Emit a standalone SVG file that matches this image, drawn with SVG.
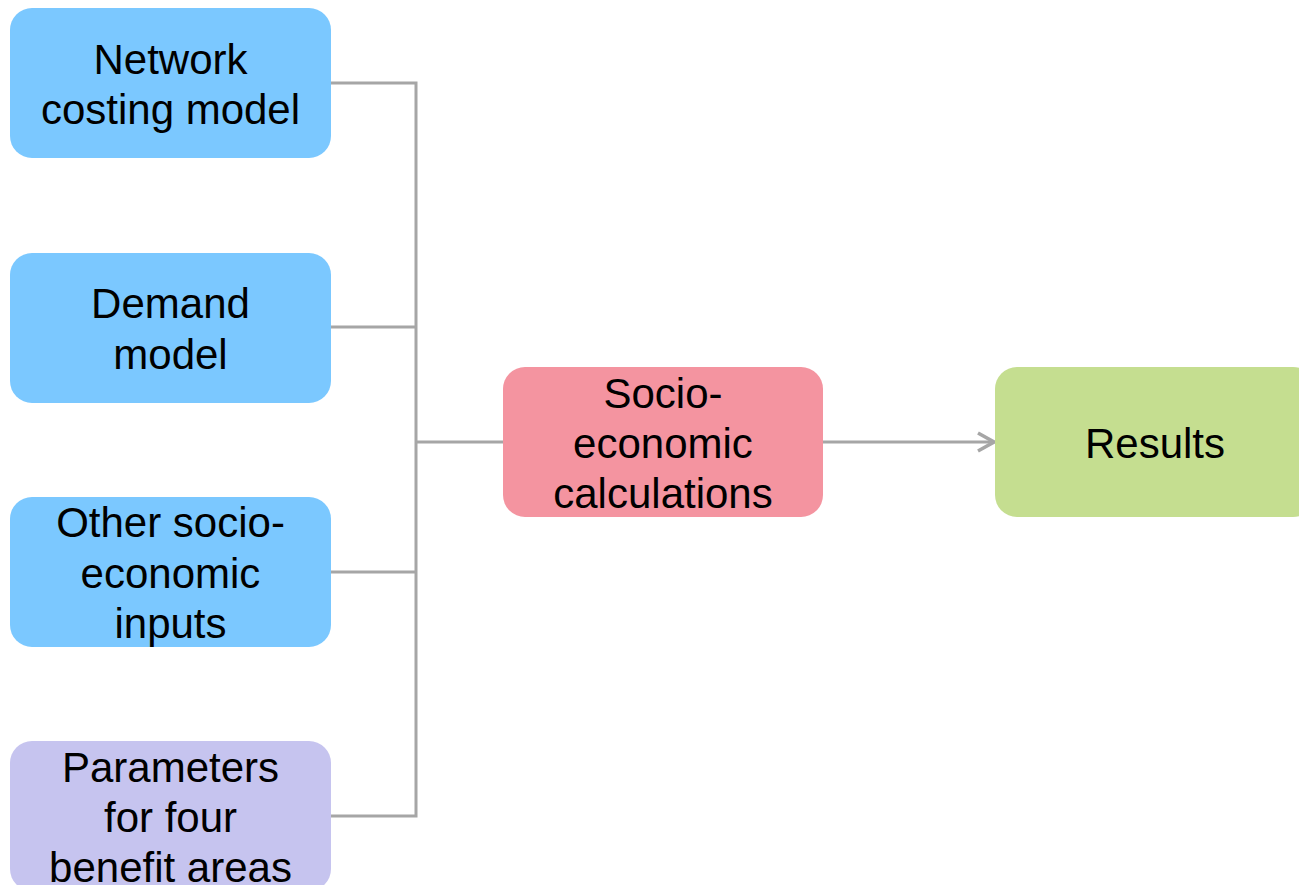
<svg xmlns="http://www.w3.org/2000/svg" width="1299" height="885" viewBox="0 0 1299 885">
<defs>
<style>
.t{font-family:"Liberation Sans",Arial,sans-serif;font-size:42px;fill:#000;text-anchor:middle}
.c{fill:none;stroke:#a6a6a6;stroke-width:3}
.blue{fill:#7bc8ff}
.pink{fill:#f494a0}
.green{fill:#c5de90}
.purple{fill:#c6c4ef}
</style>
<marker id="arr" viewBox="0 0 20 22" refX="18" refY="11" markerWidth="20" markerHeight="22" markerUnits="userSpaceOnUse" orient="auto">
<path d="M2,2 L18,11 L2,20" fill="none" stroke="#a6a6a6" stroke-width="3.5"/>
</marker>
</defs>
<rect width="1299" height="885" fill="#fff"/>
<g id="connectors">
<path class="c" d="M331,83 H416 V816 H331 M331,327 H416 M331,572 H416 M416,442 H503"/>
<path class="c" d="M823,442 H994" marker-end="url(#arr)"/>
</g>
<g id="network">
<rect class="blue" x="10" y="8" width="321" height="150" rx="22"/>
<text class="t" x="170.5" y="74">Network</text>
<text class="t" x="170.5" y="124">costing model</text>
</g>
<g id="demand">
<rect class="blue" x="10" y="253" width="321" height="150" rx="22"/>
<text class="t" x="170.5" y="318">Demand</text>
<text class="t" x="170.5" y="369">model</text>
</g>
<g id="other">
<rect class="blue" x="10" y="497" width="321" height="150" rx="22"/>
<text class="t" x="170.5" y="537">Other socio-</text>
<text class="t" x="170.5" y="588">economic</text>
<text class="t" x="170.5" y="638">inputs</text>
</g>
<g id="parameters">
<rect class="purple" x="10" y="741" width="321" height="150" rx="22"/>
<text class="t" x="170.5" y="782">Parameters</text>
<text class="t" x="170.5" y="832">for four</text>
<text class="t" x="170.5" y="882">benefit areas</text>
</g>
<g id="socio">
<rect class="pink" x="503" y="367" width="320" height="150" rx="22"/>
<text class="t" x="663" y="408">Socio-</text>
<text class="t" x="663" y="458">economic</text>
<text class="t" x="663" y="508">calculations</text>
</g>
<g id="results">
<rect class="green" x="995" y="367" width="320" height="150" rx="22"/>
<text class="t" x="1155" y="458">Results</text>
</g>
</svg>
